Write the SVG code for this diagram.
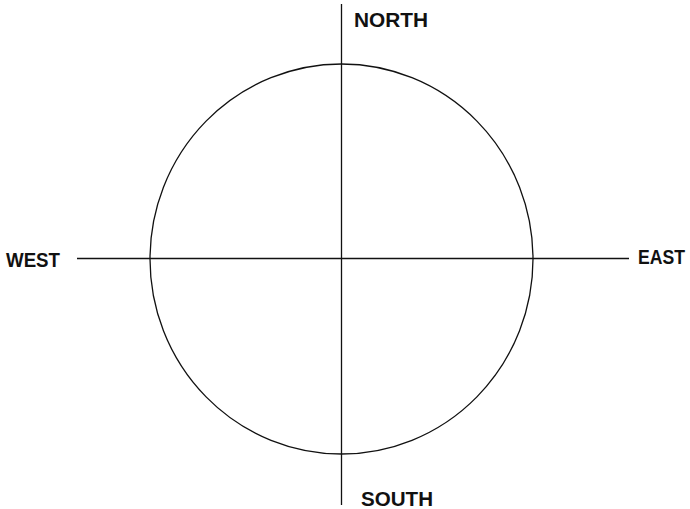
<svg xmlns="http://www.w3.org/2000/svg" width="690" height="509" viewBox="0 0 690 509">
<style>
.lbl{font-family:"Liberation Sans",Arial,sans-serif;font-weight:bold;font-size:19.5px;fill:#111}
.ln{stroke:#111;stroke-width:1.3;fill:none}
</style>
<rect width="690" height="509" fill="#fff"/>
<g id="circle"><ellipse class="ln" cx="341.5" cy="259" rx="191.5" ry="195"/></g>
<g id="connectors">
<line class="ln" x1="341.5" y1="4" x2="341.5" y2="505"/>
<line class="ln" x1="77" y1="258.5" x2="629" y2="258.5"/>
</g>
<g id="north"><text class="lbl" x="354" y="27" textLength="74" lengthAdjust="spacingAndGlyphs">NORTH</text></g>
<g id="south"><text class="lbl" x="361" y="506" textLength="72" lengthAdjust="spacingAndGlyphs">SOUTH</text></g>
<g id="west"><text class="lbl" x="6" y="267" textLength="54" lengthAdjust="spacingAndGlyphs">WEST</text></g>
<g id="east"><text class="lbl" x="638" y="264" textLength="47" lengthAdjust="spacingAndGlyphs">EAST</text></g>
</svg>
